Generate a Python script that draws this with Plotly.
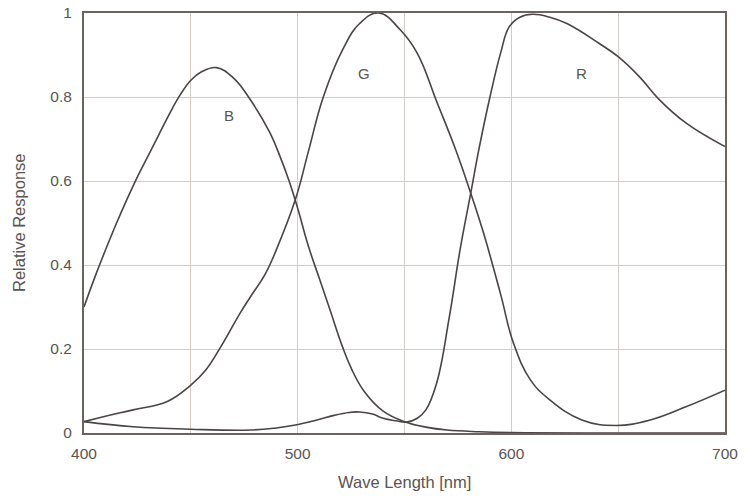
import plotly.graph_objects as go

# Spectral response curves (wavelength in nm, relative response)
wl_b = [400, 405, 410, 415, 420, 425, 430, 435, 440, 445, 450, 455, 462, 470, 477,
        487, 492, 496, 500, 505, 510, 515, 521, 525, 531, 540, 550, 560, 570, 585,
        600, 650, 700]
resp_b = [0.30, 0.37, 0.435, 0.497, 0.555, 0.61, 0.66, 0.71, 0.76, 0.805, 0.84, 0.86,
          0.87, 0.845, 0.80, 0.715, 0.655, 0.60, 0.535, 0.445, 0.37, 0.295, 0.205,
          0.155, 0.10, 0.052, 0.027, 0.014, 0.007, 0.003, 0.001, 0.0, 0.0]

wl_g = [400, 410, 423, 439, 450, 457, 464, 473, 478, 485, 490, 499, 505, 512, 521,
        529, 538, 548, 556, 565, 574, 581, 587, 595, 601, 609, 618, 633, 649, 665,
        682, 700]
resp_g = [0.027, 0.04, 0.055, 0.075, 0.114, 0.15, 0.205, 0.285, 0.325, 0.38, 0.436,
          0.557, 0.67, 0.80, 0.912, 0.975, 1.0, 0.96, 0.904, 0.79, 0.674, 0.571, 0.476,
          0.33, 0.214, 0.126, 0.079, 0.031, 0.018, 0.031, 0.063, 0.102]

wl_r = [400, 423, 450, 478, 490, 499, 509, 517, 524, 529, 535, 540, 546, 551, 556,
        560, 565, 571, 576, 581, 585, 590, 595, 599, 604, 610, 618, 626, 641, 650,
        660, 669, 682, 700]
resp_r = [0.027, 0.015, 0.009, 0.007, 0.012, 0.019, 0.031, 0.042, 0.049, 0.05, 0.045,
          0.035, 0.029, 0.026, 0.035, 0.055, 0.118, 0.277, 0.436, 0.571, 0.68, 0.80,
          0.905, 0.967, 0.99, 0.997, 0.99, 0.975, 0.928, 0.896, 0.848, 0.795, 0.737,
          0.682]

channel_labels = ["B", "G", "R"]
label_x = [468, 531, 633]
label_y = [0.757, 0.855, 0.855]

x_ticks = [400, 450, 500, 550, 600, 650, 700]
x_tick_text = ["400", "", "500", "", "600", "", "700"]
y_ticks = [0, 0.2, 0.4, 0.6, 0.8, 1]
y_tick_text = ["0", "0.2", "0.4", "0.6", "0.8", "1"]

line_color = "#4a4444"
text_color = "#5a5453"
grid_color = "#d2cbc8"
frame_color = "#6b6360"
font_family = "Liberation Sans, Arial, sans-serif"

fig = go.Figure()
for wl, resp, name in [(wl_b, resp_b, "B"), (wl_g, resp_g, "G"), (wl_r, resp_r, "R")]:
    fig.add_trace(go.Scatter(
        x=wl, y=resp, mode="lines", name=name,
        line=dict(color=line_color, width=1.6, shape="spline", smoothing=1.2),
        hoverinfo="x+y+name",
    ))

for txt, lx, ly in zip(channel_labels, label_x, label_y):
    fig.add_annotation(x=lx, y=ly, text=txt, showarrow=False,
                       font=dict(size=15, color=text_color, family=font_family))

fig.add_annotation(xref="paper", yref="paper", x=0.5, y=-0.1167, yanchor="middle",
                   text="Wave Length [nm]", showarrow=False,
                   font=dict(size=16.5, color=text_color, family=font_family))
fig.add_annotation(xref="paper", yref="paper", x=-0.1014, y=0.5, xanchor="center",
                   yanchor="middle", text="Relative Response", showarrow=False,
                   textangle=-90,
                   font=dict(size=16.5, color=text_color, family=font_family))

fig.update_layout(
    width=745, height=499,
    margin=dict(l=84, r=20, t=13, b=66),
    paper_bgcolor="white", plot_bgcolor="white",
    showlegend=False,
    font=dict(family=font_family, size=13, color=text_color),
    xaxis=dict(
        range=[400, 700], tickvals=x_ticks, ticktext=x_tick_text,
        showgrid=True, gridcolor=grid_color, gridwidth=1,
        showline=True, linecolor=frame_color, linewidth=2, mirror=True,
        zeroline=False, ticks="", ticklabelstandoff=5, automargin=False,
        tickfont=dict(size=15.5, color=text_color),
    ),
    yaxis=dict(
        range=[0, 1], tickvals=y_ticks, ticktext=y_tick_text,
        showgrid=True, gridcolor=grid_color, gridwidth=1,
        showline=True, linecolor=frame_color, linewidth=2, mirror=True,
        zeroline=False, ticks="", ticklabelstandoff=7, automargin=False,
        tickfont=dict(size=15.5, color=text_color),
    ),
)

fig.write_html("out.html")
